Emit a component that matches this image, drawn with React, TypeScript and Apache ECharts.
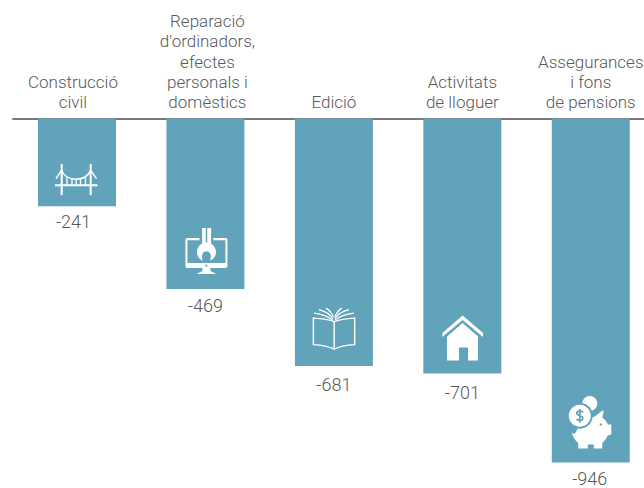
import React, { useEffect, useRef } from "react";
import * as echarts from "echarts";

const categories = [
  "Construcció\ncivil",
  "Reparació\nd'ordinadors,\nefectes\npersonals i\ndomèstics",
  "Edició",
  "Activitats\nde lloguer",
  "Assegurances\ni fons\nde pensions",
];
const values = [-241, -469, -681, -701, -946];
const iconNames = ["bridge", "monitor", "book", "house", "piggy"];

const BAR = "#62a3bc";
const W = "#ffffff";
const TEXT = "#58595b";

type Part = { d?: string; c?: number[]; fill?: string; stroke?: string; lw?: number };

// Icon outlines, in pixels relative to the foot of the bar's centre line
const icons: Record<string, Part[]> = {
  bridge: [
    { d: "M-16.3,-42 L-14.3,-42 L-14.3,-11 L-16.3,-11 Z", fill: W },
    { d: "M12.7,-42 L14.7,-42 L14.7,-11 L12.7,-11 Z", fill: W },
    { d: "M-22,-22 L20.5,-22 L20.5,-20 L-22,-20 Z", fill: W },
    { d: "M-15.3,-36 C-13,-29 -6,-27 -0.8,-27 C5,-27 11,-29 13.7,-36", stroke: W, lw: 1.5 },
    { d: "M-21,-27.5 L-15.3,-36 M19.5,-27.5 L13.7,-36", stroke: W, lw: 1.5 },
    { d: "M-10,-29 L-10,-21 M-5,-27.5 L-5,-21 M-0.8,-27 L-0.8,-21 M3.5,-27.5 L3.5,-21 M8.5,-29 L8.5,-21", stroke: W, lw: 1.3 },
  ],
  monitor: [
    { d: "M-20,-49 Q-20,-51 -18,-51 L20,-51 Q22,-51 22,-49 L22,-23 Q22,-21 20,-21 L-18,-21 Q-20,-21 -20,-23 Z", fill: W },
    { d: "M-18,-48.8 L20,-48.8 L20,-26 L-18,-26 Z", fill: BAR },
    { d: "M-6,-52 L8,-52 L8,-46 L-6,-46 Z", fill: BAR },
    { d: "M-3.3,-61 L0.4,-61 L0.4,-45 L-3.3,-45 Z", fill: W },
    { d: "M1.8,-61 L5.7,-61 L5.7,-45 L1.8,-45 Z", fill: W },
    { c: [1, -37, 9.5], fill: W },
    { c: [1, -33.5, 4.3], fill: BAR },
    { d: "M-3.3,-33.5 L5.3,-33.5 L5,-27 L-3,-27 Z", fill: BAR },
    { d: "M-3,-21 L5,-21 L5,-18 L11,-15 L-9,-15 L-3,-18 Z", fill: W },
    { c: [1, -23.5, 1.1], fill: BAR },
  ],
  book: [
    { d: "M-20.5,-48 C-13,-47.5 -6,-47 0.3,-44.5 C7,-47 14,-47.5 20.8,-48 L20.8,-21.5 C13,-21 6,-20 0.3,-17 C-6,-20 -13,-21 -20.5,-21.5 Z", stroke: W, lw: 1.4 },
    { d: "M0.3,-44.5 L0.3,-17", stroke: W, lw: 1.4 },
    { d: "M-1,-46 C-6,-50 -12,-52 -20,-53", stroke: W, lw: 1.2 },
    { d: "M-1,-47.5 C-4,-52 -9,-55 -15,-56.5", stroke: W, lw: 1.2 },
    { d: "M-0.5,-49 C-2,-53 -4,-56 -8,-58", stroke: W, lw: 1.2 },
    { d: "M1,-46 C6,-50 12,-52 20,-53", stroke: W, lw: 1.2 },
    { d: "M1,-47.5 C4,-52 9,-55 15,-56.5", stroke: W, lw: 1.2 },
    { d: "M0.8,-49 C2.5,-53 4.5,-56 8,-58", stroke: W, lw: 1.2 },
  ],
  house: [
    { d: "M0.3,-58 L20.7,-40.5 L20.7,-36.5 L0.3,-53.5 L-20,-36.5 L-20,-40.5 Z", fill: W },
    { d: "M0.3,-50.5 L15.7,-37 L15.7,-13 L5.7,-13 L5.7,-26 L-3.3,-26 L-3.3,-13 L-15.3,-13 L-15.3,-37 Z", fill: W },
  ],
  piggy: [
    { c: [-1, -59, 7.5], fill: W },
    { d: "M-19,-30 C-15,-26 -14,-33 -10,-41 L4,-46 L8,-49 C10,-51 11,-52 13,-52 L11.5,-45 C14,-43 16,-41 17,-38 L20.5,-38 L20.5,-28 L17,-27 C15,-23 13,-21 11.5,-19.5 L11.5,-14 L3,-14 L3,-18 L-3,-18 L-3,-14 L-12.5,-14 L-12.5,-19.5 C-16,-22 -18,-26 -19,-30 Z", fill: W },
    { c: [-11, -46.7, 13], fill: BAR },
    { c: [-11, -46.7, 11], fill: W },
    { d: "M-7.8,-50 C-9,-52 -14,-52 -14,-49.2 C-14,-46.4 -8,-47.4 -8,-44.2 C-8,-41.4 -13,-41.4 -14.2,-43.6 M-11,-53.5 L-11,-39.8", stroke: BAR, lw: 1.7 },
    { c: [10, -38, 1.2], fill: BAR },
  ],
};

export default function App() {
  const ref = useRef<HTMLDivElement>(null);
  useEffect(() => {
    const chart = echarts.init(ref.current!, undefined, { renderer: "svg" });
    // Hand placement of the texts, as in the reference
    const labelGaps = [9, 9.5, 12, 12.5, 10];
    const labelShifts = [-3.5, 0, 0, 0, -1];
    const categoryPads = [
      [0, 8, 0, 0],
      [0, 0, 0, 4],
      [0, 0, 0, 0],
      [0, 0, 0, 0],
      [0, 0, 0, 0],
    ];
    chart.setOption({
      animation: false,
      grid: { left: 12.75, top: 118.5, right: 0, height: 363.6 },
      xAxis: {
        type: "category",
        position: "top",
        data: categories.map((value, i) => ({
          value,
          textStyle: { padding: categoryPads[i] },
        })),
        axisTick: { show: false },
        axisLine: { lineStyle: { color: "#4d4d4f", width: 1.5 } },
        axisLabel: {
          interval: 0,
          margin: 6,
          fontFamily: "Roboto",
          fontWeight: 300,
          fontSize: 17,
          lineHeight: 20.4,
          color: TEXT,
        },
      },
      yAxis: { type: "value", min: -1000, max: 0, show: false, splitLine: { show: false } },
      series: [
        {
          type: "bar",
          data: values.map((value, i) => ({
            value,
            label: { distance: labelGaps[i], offset: [labelShifts[i], 0] },
          })),
          barWidth: 78,
          itemStyle: { color: BAR },
          label: {
            show: true,
            position: "bottom",
            fontFamily: "Roboto",
            fontWeight: 300,
            fontSize: 18,
            lineHeight: 13,
            color: TEXT,
          },
        },
        {
          type: "custom",
          z: 5,
          data: values.map((v, i) => [i, v]),
          encode: { x: 0, y: 1 },
          silent: true,
          renderItem: (params: any, api: any) => {
            const i = api.value(0);
            const [x, y] = api.coord([i, api.value(1)]);
            const parts = icons[iconNames[i]];
            return {
              type: "group",
              x,
              y,
              children: parts.map((p) =>
                p.c
                  ? {
                      type: "circle",
                      shape: { cx: p.c[0], cy: p.c[1], r: p.c[2] },
                      style: { fill: p.fill },
                    }
                  : {
                      type: "path",
                      shape: { pathData: p.d },
                      style: {
                        fill: p.fill ?? "none",
                        stroke: p.stroke ?? "none",
                        lineWidth: p.lw ?? 0,
                      },
                    }
              ),
            };
          },
        },
      ],
    });
    return () => chart.dispose();
  }, []);
  return (
    <div style={{ position: "absolute", left: 0, top: 0, width: 644, height: 488, overflow: "hidden" }}>
      <div ref={ref} style={{ width: 655.25, height: 488 }} />
    </div>
  );
}
